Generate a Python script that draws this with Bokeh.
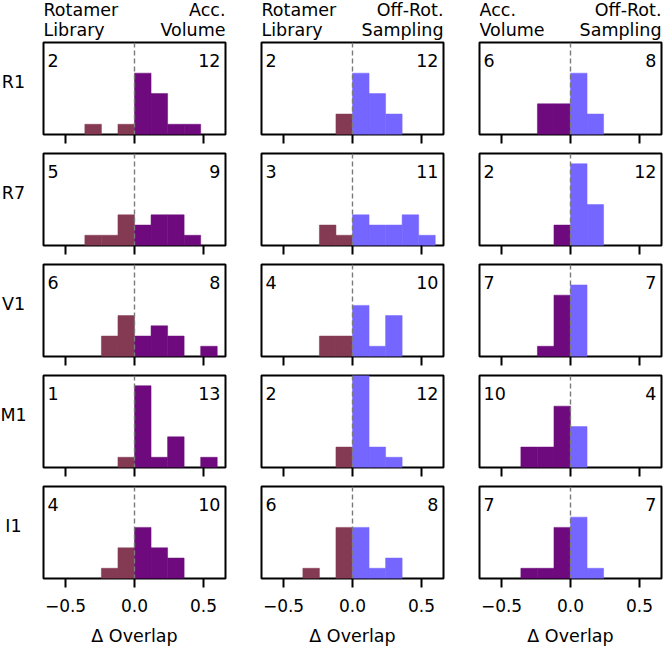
from bokeh.plotting import figure
from bokeh.layouts import gridplot
from bokeh.models import Label, Span, FixedTicker
from bokeh.core.properties import value
from bokeh.embed import file_html
from bokeh.resources import INLINE

FONT = "DejaVu Sans"
FS = "17.5px"
TICK_FS = "17px"

# histogram bin edges (Δ Overlap)
edges = [-0.6, -0.48, -0.36, -0.24, -0.12, 0.0, 0.12, 0.24, 0.36, 0.48, 0.6]

row_names = ["R1", "R7", "V1", "M1", "I1"]

# counts per bin, one list per residue, per comparison column
rot_vs_acc = {
    "R1": [0, 0, 1, 0, 1, 6, 4, 1, 1, 0],
    "R7": [0, 0, 1, 1, 3, 2, 3, 3, 1, 0],
    "V1": [0, 0, 0, 2, 4, 2, 3, 2, 0, 1],
    "M1": [0, 0, 0, 0, 1, 8, 1, 3, 0, 1],
    "I1": [0, 0, 0, 1, 3, 5, 3, 2, 0, 0],
}
rot_vs_off = {
    "R1": [0, 0, 0, 0, 2, 6, 4, 2, 0, 0],
    "R7": [0, 0, 0, 2, 1, 3, 2, 2, 3, 1],
    "V1": [0, 0, 0, 2, 2, 5, 1, 4, 0, 0],
    "M1": [0, 0, 0, 0, 2, 9, 2, 1, 0, 0],
    "I1": [0, 0, 1, 0, 5, 5, 1, 2, 0, 0],
}
acc_vs_off = {
    "R1": [0, 0, 0, 3, 3, 6, 2, 0, 0, 0],
    "R7": [0, 0, 0, 0, 2, 8, 4, 0, 0, 0],
    "V1": [0, 0, 0, 1, 6, 7, 0, 0, 0, 0],
    "M1": [0, 0, 2, 2, 6, 4, 0, 0, 0, 0],
    "I1": [0, 0, 1, 1, 5, 6, 1, 0, 0, 0],
}

columns = [rot_vs_acc, rot_vs_off, acc_vs_off]
left_headers = [("Rotamer", "Library"), ("Rotamer", "Library"), ("Acc.", "Volume")]
right_headers = [("Acc.", "Volume"), ("Off-Rot.", "Sampling"), ("Off-Rot.", "Sampling")]

BROWN = "#853a53"
PURPLE = "#6e0a7d"
BLUE = "#7566ff"
neg_colors = [BROWN, BROWN, PURPLE]
pos_colors = [PURPLE, BLUE, BLUE]

tick_values = [-0.5, 0.0, 0.5]
tick_labels = ["\u22120.5", "0.0", "0.5"]
x_label = "\u0394 Overlap"

XMIN, XMAX = -0.66, 0.66
YMAX = 9

# layout (pixels)
FRAME_W, FRAME_H = 182, 92
LABEL_W = 26
HEADER_H = 40
col_left = [17, 18, 18]
col_right = [18, 18, 2]
N = len(row_names)


def row_borders(i):
    return 2, (68 if i == N - 1 else 17)


def blank(p):
    p.background_fill_color = "white"
    p.border_fill_color = "white"
    p.outline_line_color = None
    p.grid.visible = False
    p.axis.visible = False


grid_rows = []

# header row
header_row = [None]
for j in range(3):
    h = figure(frame_width=FRAME_W, frame_height=HEADER_H,
               x_range=(XMIN, XMAX), y_range=(0, HEADER_H),
               output_backend="svg", toolbar_location=None,
               min_border_left=col_left[j], min_border_right=col_right[j],
               min_border_top=0, min_border_bottom=0)
    blank(h)
    h.text(x=[XMIN, XMIN], y=[31, 11], text=list(left_headers[j]),
           text_align="left", text_baseline="alphabetic",
           text_font=value(FONT), text_font_size=value(FS), text_color="black")
    h.text(x=[XMAX, XMAX], y=[31, 11], text=list(right_headers[j]),
           text_align="right", text_baseline="alphabetic",
           text_font=value(FONT), text_font_size=value(FS), text_color="black")
    header_row.append(h)
grid_rows.append(header_row)

for i, rname in enumerate(row_names):
    bt, bb = row_borders(i)
    # row label cell
    rl = figure(frame_width=LABEL_W, frame_height=FRAME_H,
                x_range=(0, LABEL_W), y_range=(0, FRAME_H),
                output_backend="svg", toolbar_location=None,
                min_border_left=0, min_border_right=0,
                min_border_top=bt, min_border_bottom=bb)
    blank(rl)
    rl.text(x=[13], y=[FRAME_H / 2 + 7], text=[rname], text_align="center",
            text_baseline="alphabetic", text_font=value(FONT),
            text_font_size=value(FS), text_color="black")
    row = [rl]
    for j, col in enumerate(columns):
        counts = col[rname]
        p = figure(
            frame_width=FRAME_W, frame_height=FRAME_H,
            x_range=(XMIN, XMAX), y_range=(0, YMAX),
            output_backend="svg", toolbar_location=None,
            min_border_left=col_left[j], min_border_right=col_right[j],
            min_border_top=bt, min_border_bottom=bb,
        )
        p.background_fill_color = "white"
        p.border_fill_color = "white"
        p.outline_line_color = "black"
        p.outline_line_width = 2
        p.grid.visible = False
        p.yaxis.visible = False

        nl, nr, nt, pl, pr, pt = [], [], [], [], [], []
        for k, c in enumerate(counts):
            if c == 0:
                continue
            if edges[k + 1] <= 0:
                nl.append(edges[k]); nr.append(edges[k + 1]); nt.append(c)
            else:
                pl.append(edges[k]); pr.append(edges[k + 1]); pt.append(c)
        p.quad(left=nl, right=nr, top=nt, bottom=0, fill_color=neg_colors[j],
               line_color=neg_colors[j], line_alpha=0.5, line_width=1)
        p.quad(left=pl, right=pr, top=pt, bottom=0, fill_color=pos_colors[j],
               line_color=pos_colors[j], line_alpha=0.5, line_width=1)

        p.add_layout(Span(location=0, dimension="height", line_color="#7a7a7a",
                          line_width=1.4, line_dash="5 3"))

        ax = p.xaxis[0]
        ax.ticker = FixedTicker(ticks=tick_values, minor_ticks=[])
        ax.axis_line_color = None
        ax.major_tick_line_color = "black"
        ax.major_tick_line_width = 2
        ax.major_tick_out = 9
        ax.major_tick_in = 0
        ax.minor_tick_line_color = None
        if i == N - 1:
            ax.major_label_overrides = {v: t for v, t in zip(tick_values, tick_labels)}
            ax.major_label_text_font = FONT
            ax.major_label_text_font_size = TICK_FS
            ax.major_label_text_color = "black"
            ax.major_label_standoff = 11
            ax.axis_label = x_label
            ax.axis_label_text_font = FONT
            ax.axis_label_text_font_size = FS
            ax.axis_label_text_font_style = "normal"
            ax.axis_label_text_color = "black"
            ax.axis_label_standoff = 11
        else:
            ax.major_label_text_font_size = "1px"
            ax.major_label_text_color = None
            ax.major_label_text_alpha = 0
            ax.major_label_standoff = 0

        # counts of negative / positive differences
        p.add_layout(Label(x=XMIN, y=YMAX, x_offset=4, y_offset=-17.5, text=str(sum(nt)),
                           text_align="left", text_baseline="alphabetic",
                           text_font=FONT, text_font_size=FS, text_color="black"))
        p.add_layout(Label(x=XMAX, y=YMAX, x_offset=-5, y_offset=-17.5, text=str(sum(pt)),
                           text_align="right", text_baseline="alphabetic",
                           text_font=FONT, text_font_size=FS, text_color="black"))
        row.append(p)
    grid_rows.append(row)

grid = gridplot(grid_rows, toolbar_location=None)

with open("out.html", "w") as f:
    f.write(file_html(grid, INLINE))
